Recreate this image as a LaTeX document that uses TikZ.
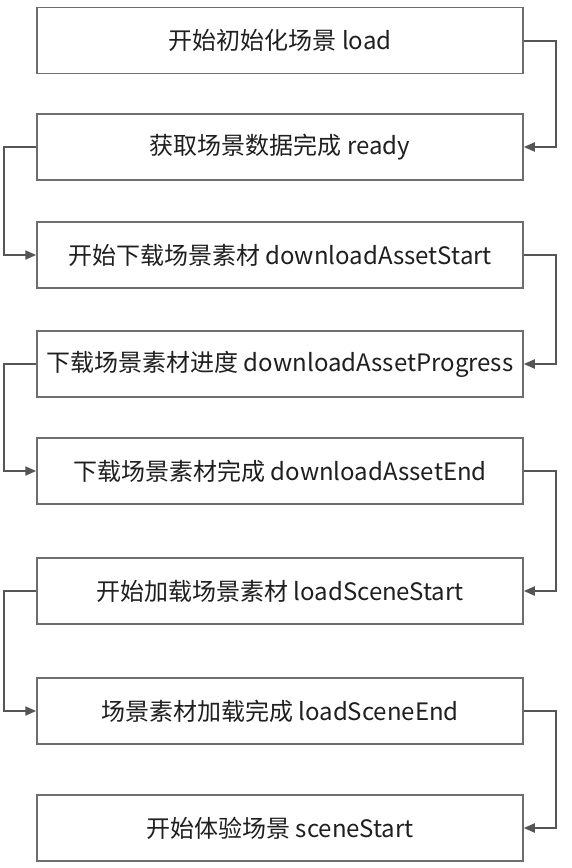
\documentclass[tikz,border=0pt]{standalone}
\usepackage{fontspec}
\setmainfont{Noto Sans CJK SC}
\usetikzlibrary{arrows.meta}
\definecolor{flowGray}{HTML}{555555}
\definecolor{boxGray}{HTML}{6E6E6E}
\definecolor{textGray}{HTML}{1F1F1F}
\tikzset{
  evt box/.style={rectangle, draw=boxGray, fill=white, line width=1.5pt,
    minimum width=486pt, minimum height=66pt, inner sep=0pt,
    font=\fontsize{24}{28}\selectfont, text=textGray},
  evt flow/.style={draw=flowGray, line width=2pt,
    -{Triangle[length=11pt,width=9pt]}},
}
\begin{document}
\begin{tikzpicture}[x=1pt, y=-1pt]
  \useasboundingbox (0,0) rectangle (572,868);

  \node[evt box] (load) at (280,40.5) {开始初始化场景 load};
  \node[evt box] (ready) at (280,147) {获取场景数据完成 ready};
  \node[evt box] (dlStart) at (280,255) {开始下载场景素材 downloadAssetStart};
  \node[evt box] (dlProgress) at (280,364) {下载场景素材进度 downloadAssetProgress};
  \node[evt box] (dlEnd) at (280,471) {下载场景素材完成 downloadAssetEnd};
  \node[evt box] (lsStart) at (280,591) {开始加载场景素材 loadSceneStart};
  \node[evt box] (lsEnd) at (280,711) {场景素材加载完成 loadSceneEnd};
  \node[evt box] (scStart) at (280,828) {开始体验场景 sceneStart};

  % right-hand loops
  \draw[evt flow] (load.east) -- ++(32,0) |- (ready.east);
  \draw[evt flow] (dlStart.east) -- ++(32,0) |- (dlProgress.east);
  \draw[evt flow] (dlEnd.east) -- ++(32,0) |- (lsStart.east);
  \draw[evt flow] (lsEnd.east) -- ++(32,0) |- (scStart.east);
  % left-hand loops
  \draw[evt flow] (ready.west) -- ++(-32,0) |- (dlStart.west);
  \draw[evt flow] (dlProgress.west) -- ++(-32,0) |- (dlEnd.west);
  \draw[evt flow] (lsStart.west) -- ++(-32,0) |- (lsEnd.west);
\end{tikzpicture}
\end{document}
